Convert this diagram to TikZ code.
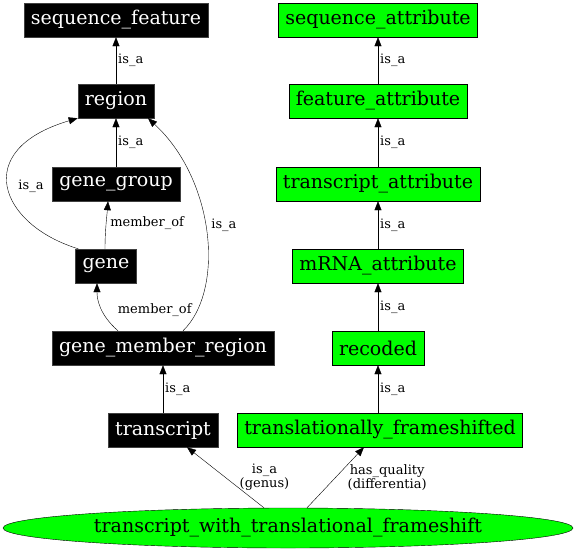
\documentclass[tikz,border=0pt]{standalone}
\usepackage{fontspec}
\setmainfont{DejaVu Serif}
\usetikzlibrary{arrows.meta}
\usetikzlibrary{shapes.geometric}

\definecolor{boxgreen}{HTML}{00FF00}

\begin{document}
\begin{tikzpicture}[x=1pt, y=-1pt,
    term/.style={draw=black!75, fill=black, text=white, minimum height=34pt,
      inner xsep=7pt, font=\fontsize{19}{21}\selectfont},
    attr/.style={draw=black, fill=boxgreen, text=black, minimum height=34pt,
      inner xsep=7pt, font=\fontsize{19}{21}\selectfont},
    lbl/.style={font=\fontsize{13}{14}\selectfont, inner sep=2pt, align=center},
    rel/.style={draw=black, -{Triangle[length=9pt,width=7pt]}}]
  \useasboundingbox (0,0) rectangle (576,552);

  % left column
  \node[term] (seqfeat) at (116,20) {sequence\_feature};
  \node[term] (region) at (116,101) {region};
  \node[term] (genegroup) at (116,184) {gene\_group};
  \node[term] (gene) at (106,266) {gene};
  \node[term] (gmr) at (163,348) {gene\_member\_region};
  \node[term] (transcript) at (163,430) {transcript};

  % right column
  \node[attr] (seqattr) at (378,20) {sequence\_attribute};
  \node[attr] (featattr) at (378,101) {feature\_attribute};
  \node[attr] (txattr) at (378,184) {transcript\_attribute};
  \node[attr] (mrnaattr) at (378,266) {mRNA\_attribute};
  \node[attr] (recoded) at (378,348) {recoded};
  \node[attr] (tlfs) at (380,430) {translationally\_frameshifted};

  \node[ellipse, draw=black, fill=boxgreen, minimum width=570pt, minimum height=40pt,
    inner sep=0pt, font=\fontsize{19}{21}\selectfont] (twtf) at (288,528)
    {transcript\_with\_translational\_frameshift};

  % is_a chain, left
  \draw[rel] (region) -- node[lbl, right] {is\_a} (seqfeat);
  \draw[rel] (genegroup) -- node[lbl, right] {is\_a} (region);
  \draw[rel] (transcript) -- node[lbl, right] {is\_a} (gmr);
  \draw[rel] (gene.north west) ++(3,0) .. controls (0,225) and (-30,150) ..
    node[lbl, right=8pt] {is\_a} (region.south west);
  \draw[rel] (gene.north) ++(-1,0) .. controls (105,230) and (107,215) ..
    node[lbl, right=2pt] {member\_of} ([xshift=-8pt]genegroup.south);
  \draw[rel] ([xshift=-45pt]gmr.north) .. controls (100,315) and (97,300) ..
    node[lbl, right=14pt, pos=0.45] {member\_of} ([xshift=-9pt]gene.south);
  \draw[rel] ([xshift=20pt]gmr.north) .. controls (225,290) and (215,180) ..
    node[lbl, right=4pt, pos=0.53] {is\_a} ([xshift=32pt]region.south);

  % is_a chain, right
  \draw[rel] (featattr) -- node[lbl, right] {is\_a} (seqattr);
  \draw[rel] (txattr) -- node[lbl, right] {is\_a} (featattr);
  \draw[rel] (mrnaattr) -- node[lbl, right] {is\_a} (txattr);
  \draw[rel] (recoded) -- node[lbl, right] {is\_a} (mrnaattr);
  \draw[rel] ([xshift=-2pt]tlfs.north) -- node[lbl, right] {is\_a} (recoded);

  % genus and differentia
  \draw[rel] ([xshift=-24pt]twtf.north) -- node[lbl, right=12pt] {is\_a\\(genus)}
    ([xshift=24pt]transcript.south);
  \draw[rel] ([xshift=19pt]twtf.north) -- node[lbl, right=10pt] {has\_quality\\(differentia)}
    ([xshift=-16pt]tlfs.south);
\end{tikzpicture}
\end{document}
